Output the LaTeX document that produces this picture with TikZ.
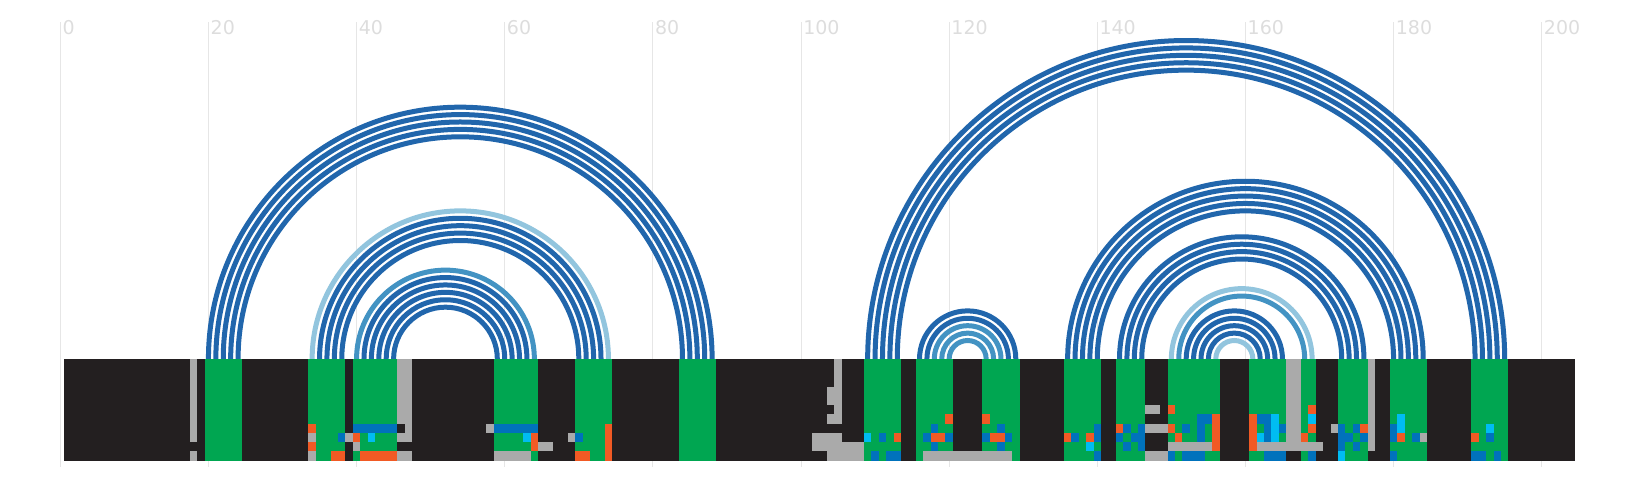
\documentclass[tikz,border=0pt]{standalone}
\usepackage{fontspec}
\setmainfont{DejaVu Sans}

\definecolor{basedark}{HTML}{231F20}
\definecolor{stemgreen}{HTML}{00A651}
\definecolor{cellgrey}{HTML}{AAAAAA}
\definecolor{cellorange}{HTML}{F15A24}
\definecolor{cellblue}{HTML}{0072BC}
\definecolor{cellcyan}{HTML}{00BCF2}
\definecolor{arcdark}{HTML}{2166AC}
\definecolor{arcmid}{HTML}{4393C3}
\definecolor{arclight}{HTML}{92C5DE}
\definecolor{gridgrey}{HTML}{E6E6E6}
\definecolor{ticktext}{HTML}{DDDDDD}

\tikzset{
  gridline/.style={draw=gridgrey,line width=0.75pt},
  ticklabel/.style={anchor=base west,inner sep=0pt,xshift=1.5pt,text=ticktext,
    font=\fontsize{14.25}{17}\selectfont},
  bond/.style={line width=3.75pt}
}

% one row of the bar
\newcommand{\rowh}{1.248}
% cells from column #1 to #2, rows #3 to #4
\newcommand{\cellblock}[5]{\fill[#5] ({#1-0.5},{-#3*\rowh}) rectangle ({#2+0.5},{-(#4+1)*\rowh});}

\begin{document}
\begin{tikzpicture}[x=5.5555pt,y=5.5555pt]
  \useasboundingbox (-8.141,-17.146) rectangle (212.19,48.47);

  % scale
  \foreach \t in {0,20,...,200} {
    \draw[gridline] (\t,-14.6) -- (\t,45.5);
    \node[ticklabel] (lab\t) at (\t,43.78) {\t};
  }

  % positions
  \foreach \i in {1,...,204}
    \coordinate (p\i) at (\i,0);

  % base pairs
  \foreach \i/\j/\c in {20/88/arcdark,21/87/arcdark,22/86/arcdark,23/85/arcdark,24/84/arcdark,
      34/74/arclight,35/73/arcdark,36/72/arcdark,37/71/arcdark,38/70/arcdark,
      40/64/arcmid,41/63/arcdark,42/62/arcdark,43/61/arcdark,44/60/arcdark,45/59/arcdark,
      109/195/arcdark,110/194/arcdark,111/193/arcdark,112/192/arcdark,113/191/arcdark,
      116/129/arcdark,117/128/arcdark,118/127/arcmid,119/126/arcmid,120/125/arcmid,
      136/184/arcdark,137/183/arcdark,138/182/arcdark,139/181/arcdark,140/180/arcdark,
      143/176/arcdark,144/175/arcdark,145/174/arcdark,146/173/arcdark,
      150/169/arclight,151/168/arcmid,152/165/arcdark,153/164/arcdark,154/163/arcdark,
      155/162/arcdark,156/161/arclight}
    \draw[bond,\c] (p\i) arc[start angle=180,end angle=0,radius={(\j-\i)/2}];

  % bar
  \fill[basedark] (0.5,0) rectangle (204.5,{-11*\rowh});
  \foreach \a/\b in {20/24,34/38,40/45,59/64,70/74,84/88,109/113,116/120,125/129,
      136/140,143/146,150/156,161/165,168/169,173/176,180/184,191/195}
    \fill[stemgreen] ({\a-0.5},0) rectangle ({\b+0.5},{-11*\rowh});

  \foreach \a/\b/\r/\s in {18/18/0/8,18/18/10/10,34/34/8/8,34/34/10/10,39/39/8/8,
      40/40/9/9,46/47/0/6,47/47/7/7,46/47/8/8,46/47/10/10,58/58/7/7,59/63/10/10,
      65/66/9/9,69/69/8/8,102/103/8/9,104/104/3/4,104/104/6/6,104/105/8/8,
      104/108/9/10,105/105/0/6,117/128/10/10,147/148/5/5,147/149/7/7,147/149/10/10,
      150/155/9/9,162/170/9/9,166/167/0/8,172/172/7/7,177/177/0/9,184/184/8/8}
    {\cellblock{\a}{\b}{\r}{\s}{cellgrey}}

  \foreach \a/\b/\r/\s in {34/34/7/7,34/34/9/9,37/38/10/10,40/40/8/8,41/45/10/10,
      64/64/8/9,70/71/10/10,74/74/7/10,113/113/8/8,118/119/8/8,120/120/6/6,
      125/125/6/6,126/127/8/8,136/136/8/8,139/139/8/8,143/143/7/7,150/150/5/5,
      150/150/7/7,151/151/8/8,156/156/6/9,161/161/6/9,168/168/8/8,169/169/5/5,
      169/169/7/7,176/176/7/7,181/181/8/8,191/191/8/8}
    {\cellblock{\a}{\b}{\r}{\s}{cellorange}}

  \foreach \a/\b/\r/\s in {38/38/8/8,40/45/7/7,59/64/7/7,70/70/8/8,110/110/10/10,
      111/111/8/8,112/113/10/10,117/117/8/8,118/118/7/7,118/118/9/9,120/120/8/8,
      125/125/8/8,127/127/7/7,127/127/9/9,128/128/8/8,137/137/8/8,140/140/7/8,
      140/140/10/10,143/143/8/8,144/144/7/7,144/144/9/9,145/145/8/8,146/146/7/9,
      150/150/10/10,152/152/7/7,152/154/10/10,154/155/6/6,154/154/7/8,162/163/6/6,
      163/163/7/8,163/165/10/10,165/165/7/7,169/169/10/10,173/173/7/9,174/174/8/8,
      175/175/7/7,175/175/9/9,176/176/8/8,180/180/7/8,180/180/10/10,183/183/8/8,
      191/192/10/10,193/193/8/8,194/194/10/10}
    {\cellblock{\a}{\b}{\r}{\s}{cellblue}}

  \foreach \a/\b/\r/\s in {42/42/8/8,63/63/8/8,109/109/8/8,139/139/9/9,162/162/8/8,
      164/164/6/8,169/169/6/6,173/173/10/10,181/181/6/7,193/193/7/7}
    {\cellblock{\a}{\b}{\r}{\s}{cellcyan}}
\end{tikzpicture}
\end{document}
